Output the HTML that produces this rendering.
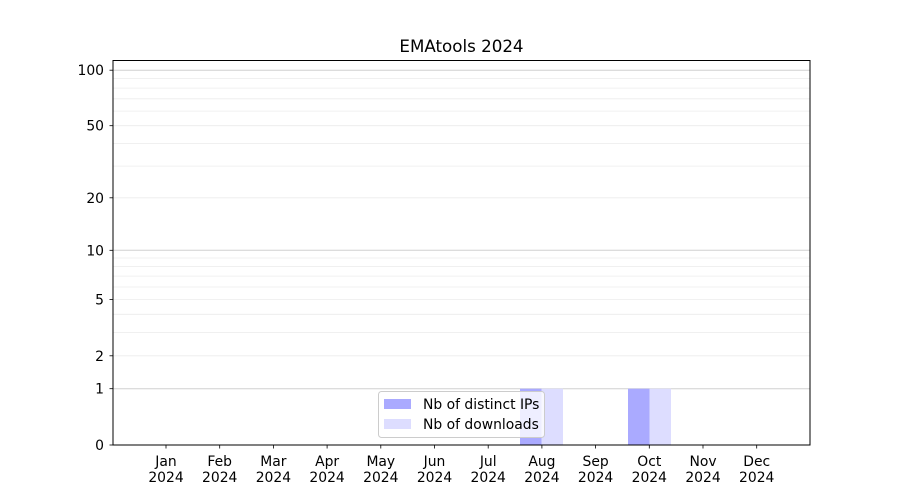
<!DOCTYPE html>
<html><head><meta charset="utf-8"><style>body{margin:0;background:#fff}svg{display:block;font-family:"DejaVu Sans","Liberation Sans",sans-serif}</style></head><body>
<svg width="900" height="500" xmlns="http://www.w3.org/2000/svg">
<rect width="900" height="500" fill="#fff"/>
<g stroke="#ececec" stroke-width="0.8">
<line x1="113" x2="810" y1="355.8" y2="355.8"/><line x1="113" x2="810" y1="332.4" y2="332.4"/><line x1="113" x2="810" y1="314.3" y2="314.3"/><line x1="113" x2="810" y1="299.5" y2="299.5"/><line x1="113" x2="810" y1="287" y2="287"/><line x1="113" x2="810" y1="276.1" y2="276.1"/><line x1="113" x2="810" y1="266.6" y2="266.6"/><line x1="113" x2="810" y1="258" y2="258"/>
<line x1="113" x2="810" y1="197.8" y2="197.8"/><line x1="113" x2="810" y1="166.1" y2="166.1"/><line x1="113" x2="810" y1="143.4" y2="143.4"/><line x1="113" x2="810" y1="125.7" y2="125.7"/><line x1="113" x2="810" y1="111.1" y2="111.1"/><line x1="113" x2="810" y1="98.8" y2="98.8"/><line x1="113" x2="810" y1="88.1" y2="88.1"/><line x1="113" x2="810" y1="78.6" y2="78.6"/>
</g>
<g stroke="#d0d0d0" stroke-width="1">
<line x1="113" x2="810" y1="388.7" y2="388.7"/><line x1="113" x2="810" y1="250.3" y2="250.3"/><line x1="113" x2="810" y1="70.2" y2="70.2"/>
</g>
<rect x="520" y="388.7" width="21.5" height="56.3" fill="#aaaaff"/>
<rect x="541.5" y="388.7" width="21.5" height="56.3" fill="#ddddff"/>
<rect x="628" y="388.7" width="21.5" height="56.3" fill="#aaaaff"/>
<rect x="649.5" y="388.7" width="21.5" height="56.3" fill="#ddddff"/>
<rect x="113" y="60.5" width="697" height="384.5" fill="none" stroke="#000" stroke-width="1"/>
<g stroke="#000" stroke-width="0.8">
<line x1="109.5" x2="113" y1="445" y2="445"/><line x1="109.5" x2="113" y1="388.7" y2="388.7"/><line x1="109.5" x2="113" y1="355.8" y2="355.8"/><line x1="109.5" x2="113" y1="299.5" y2="299.5"/><line x1="109.5" x2="113" y1="250.3" y2="250.3"/><line x1="109.5" x2="113" y1="197.8" y2="197.8"/><line x1="109.5" x2="113" y1="125.7" y2="125.7"/><line x1="109.5" x2="113" y1="70.2" y2="70.2"/>
<line y1="445" y2="448.5" x1="166" x2="166"/><line y1="445" y2="448.5" x1="219.7" x2="219.7"/><line y1="445" y2="448.5" x1="273.4" x2="273.4"/><line y1="445" y2="448.5" x1="327.1" x2="327.1"/><line y1="445" y2="448.5" x1="380.8" x2="380.8"/><line y1="445" y2="448.5" x1="434.5" x2="434.5"/><line y1="445" y2="448.5" x1="488.2" x2="488.2"/><line y1="445" y2="448.5" x1="541.9" x2="541.9"/><line y1="445" y2="448.5" x1="595.6" x2="595.6"/><line y1="445" y2="448.5" x1="649.3" x2="649.3"/><line y1="445" y2="448.5" x1="703" x2="703"/><line y1="445" y2="448.5" x1="756.7" x2="756.7"/>
</g>
<g font-size="13.9" text-anchor="end" fill="#000">
<text x="104" y="450">0</text><text x="104" y="393.7">1</text><text x="104" y="360.8">2</text><text x="104" y="304.5">5</text><text x="104" y="255.3">10</text><text x="104" y="202.8">20</text><text x="104" y="130.7">50</text><text x="104" y="75.2">100</text>
</g>
<g font-size="13.9" text-anchor="middle" fill="#000">
<text x="166" y="466">Jan</text><text x="166" y="482">2024</text>
<text x="219.7" y="466">Feb</text><text x="219.7" y="482">2024</text>
<text x="273.4" y="466">Mar</text><text x="273.4" y="482">2024</text>
<text x="327.1" y="466">Apr</text><text x="327.1" y="482">2024</text>
<text x="380.8" y="466">May</text><text x="380.8" y="482">2024</text>
<text x="434.5" y="466">Jun</text><text x="434.5" y="482">2024</text>
<text x="488.2" y="466">Jul</text><text x="488.2" y="482">2024</text>
<text x="541.9" y="466">Aug</text><text x="541.9" y="482">2024</text>
<text x="595.6" y="466">Sep</text><text x="595.6" y="482">2024</text>
<text x="649.3" y="466">Oct</text><text x="649.3" y="482">2024</text>
<text x="703" y="466">Nov</text><text x="703" y="482">2024</text>
<text x="756.7" y="466">Dec</text><text x="756.7" y="482">2024</text>
</g>
<text x="461.5" y="52" font-size="16.7" text-anchor="middle">EMAtools 2024</text>
<rect x="378.5" y="391.5" width="166" height="46" rx="3" fill="#fff" fill-opacity="0.8" stroke="#cccccc"/>
<rect x="384" y="399" width="27" height="10" fill="#aaaaff"/>
<rect x="384" y="419" width="27" height="10" fill="#ddddff"/>
<g font-size="13.9" fill="#000"><text x="423" y="409">Nb of distinct IPs</text><text x="423" y="429">Nb of downloads</text></g>
</svg>
</body></html>
